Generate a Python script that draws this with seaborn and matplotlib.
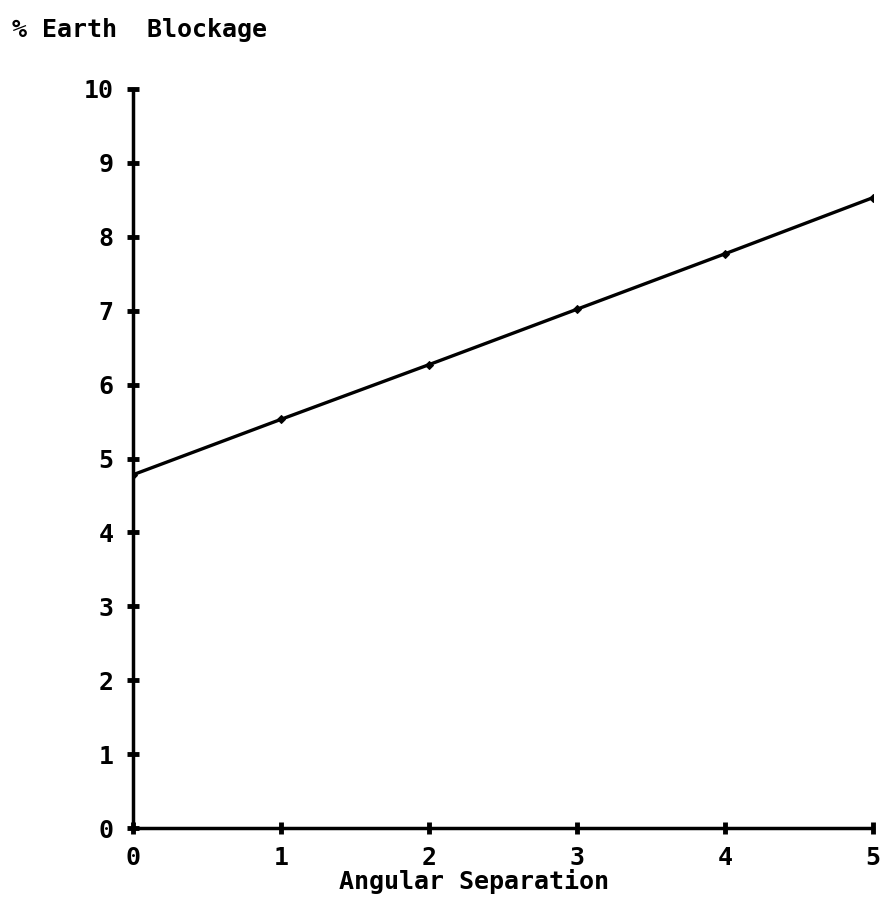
import pandas as pd
import matplotlib.pyplot as plt
import seaborn as sns

# values
angular_sep = [0, 1, 2, 3, 4, 5]
earth_blockage = [4.78, 5.53, 6.27, 7.02, 7.77, 8.53]
x_ticks = [0, 1, 2, 3, 4, 5]
y_ticks = [0, 1, 2, 3, 4, 5, 6, 7, 8, 9, 10]

df = pd.DataFrame({'Angular Separation': angular_sep, 'Earth Blockage': earth_blockage})

sns.set_style('white')
plt.rcParams['font.family'] = ['DejaVu Sans Mono', 'DejaVu Sans']
plt.rcParams['font.weight'] = 'bold'
plt.rcParams['text.color'] = 'black'

fig = plt.figure(figsize=(8.8, 9.09), dpi=100)
ax = fig.add_axes([133/880, 81/909, 740/880, 739/909])

sns.lineplot(x='Angular Separation', y='Earth Blockage', data=df, ax=ax,
             color='black', linewidth=2.4, marker='D', markersize=4,
             markeredgecolor='black')

ax.set_xlim(0, 5)
ax.set_ylim(0, 10)
ax.set_xticks(x_ticks)
ax.set_yticks(y_ticks)
ax.set_xticklabels([str(t) for t in x_ticks])
ax.set_yticklabels([str(t) for t in y_ticks])
ax.tick_params(axis='both', direction='inout', length=8, width=3.5, color='black',
               labelsize=18, labelcolor='black', bottom=True, left=True)
ax.tick_params(axis='y', pad=10)
ax.tick_params(axis='x', pad=9)
for lab in ax.get_xticklabels() + ax.get_yticklabels():
    lab.set_fontweight('bold')

sns.despine(ax=ax)
for side in ['left', 'bottom']:
    ax.spines[side].set_linewidth(2.5)
    ax.spines[side].set_color('black')
ax.set_xlabel('')
ax.set_ylabel('')
ax.grid(False)

fig.text(12/880, 1 - 30/909, '% Earth  Blockage', fontsize=18, fontweight='bold',
         ha='left', va='center', color='black')
fig.text(474/880, 1 - 881/909, 'Angular Separation', fontsize=18, fontweight='bold',
         ha='center', va='center', color='black')

fig.savefig('out.png', dpi=100)
